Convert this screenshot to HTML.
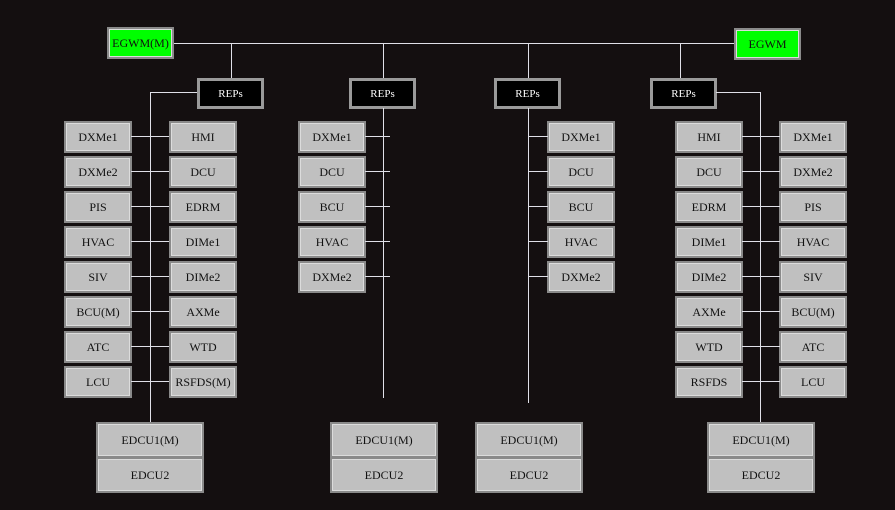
<!DOCTYPE html>
<html><head><style>
body{margin:0;width:895px;height:510px;background:#140f10;position:relative;overflow:hidden;font-family:"Liberation Serif",serif;}
.b{position:absolute;box-sizing:border-box;background:#c0c0c0;border:2px solid #8a8a8a;box-shadow:inset 0 0 0 1px #dcdcdc;color:#111;font-size:12px;display:flex;align-items:center;justify-content:center;}
.g{background:#00ff00;}
.k{background:#000;color:#fff;box-shadow:none;border:3px solid #9a9a9a;font-size:11px;}
.h{position:absolute;height:1px;background:#e0e0e8;}
.v{position:absolute;width:1px;background:#e0e0e8;}
</style></head><body>
<div class="h" style="left:173px;top:43px;width:562px"></div>
<div class="v" style="left:231px;top:43px;height:35px"></div>
<div class="v" style="left:383px;top:43px;height:35px"></div>
<div class="v" style="left:528px;top:43px;height:35px"></div>
<div class="v" style="left:680px;top:43px;height:35px"></div>
<div class="b g" style="left:107px;top:27px;width:67px;height:32px">EGWM(M)</div>
<div class="b g" style="left:734px;top:28px;width:67px;height:32px">EGWM</div>
<div class="b k" style="left:197px;top:78px;width:67px;height:31px">REPs</div>
<div class="b k" style="left:349px;top:78px;width:67px;height:31px">REPs</div>
<div class="b k" style="left:494px;top:78px;width:67px;height:31px">REPs</div>
<div class="b k" style="left:650px;top:78px;width:67px;height:31px">REPs</div>
<!-- group1 -->
<div class="h" style="left:150px;top:92px;width:47px"></div>
<div class="v" style="left:150px;top:92px;height:330px"></div>
<div class="h" style="left:716px;top:92px;width:44px"></div>
<div class="v" style="left:760px;top:92px;height:330px"></div>
<div class="v" style="left:383px;top:108px;height:290px"></div>
<div class="v" style="left:528px;top:108px;height:295px"></div>
<div id="rows"></div>
<div class="b" style="left:96px;top:422px;width:108px;height:36px">EDCU1(M)</div>
<div class="b" style="left:96px;top:457px;width:108px;height:36px">EDCU2</div>
<div class="b" style="left:330px;top:422px;width:108px;height:36px">EDCU1(M)</div>
<div class="b" style="left:330px;top:457px;width:108px;height:36px">EDCU2</div>
<div class="b" style="left:475px;top:422px;width:108px;height:36px">EDCU1(M)</div>
<div class="b" style="left:475px;top:457px;width:108px;height:36px">EDCU2</div>
<div class="b" style="left:707px;top:422px;width:108px;height:36px">EDCU1(M)</div>
<div class="b" style="left:707px;top:457px;width:108px;height:36px">EDCU2</div>
<script>
var r=document.getElementById('rows'),h='';
function box(x,y,t){h+='<div class="b" style="left:'+x+'px;top:'+y+'px;width:68px;height:32px">'+t+'</div>';}
function ln(x,y,w){h+='<div class="h" style="left:'+x+'px;top:'+y+'px;width:'+w+'px"></div>';}
var g1l=['DXMe1','DXMe2','PIS','HVAC','SIV','BCU(M)','ATC','LCU'],g1r=['HMI','DCU','EDRM','DIMe1','DIMe2','AXMe','WTD','RSFDS(M)'];
var g4l=['HMI','DCU','EDRM','DIMe1','DIMe2','AXMe','WTD','RSFDS'],g4r=['DXMe1','DXMe2','PIS','HVAC','SIV','BCU(M)','ATC','LCU'];
var g2=['DXMe1','DCU','BCU','HVAC','DXMe2'];
for(var i=0;i<8;i++){var y=121+i*35;
box(64,y,g1l[i]);box(169,y,g1r[i]);ln(131,y+15,38);
box(675,y,g4l[i]);box(779,y,g4r[i]);ln(742,y+15,38);}
for(var i=0;i<5;i++){var y=121+i*35;box(298,y,g2[i]);ln(365,y+15,25);box(547,y,g2[i]);ln(528,y+15,20);}
r.innerHTML=h;
</script>
</body></html>
